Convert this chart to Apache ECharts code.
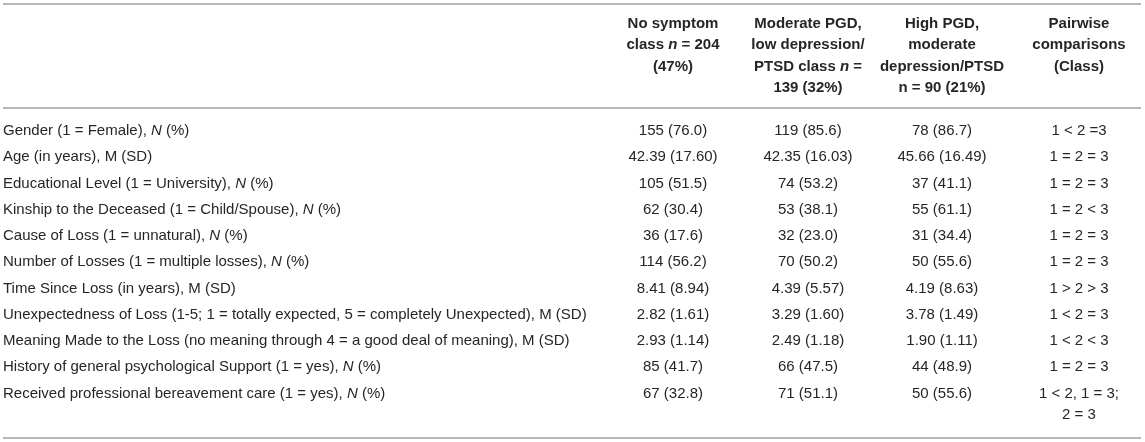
<!DOCTYPE html>
<html><head><meta charset="utf-8">
<script src="https://cdn.jsdelivr.net/npm/echarts@6/dist/echarts.min.js"></script>
<style>html,body{margin:0;padding:0;background:#fff}#c{width:1145px;height:442px}</style>
</head><body><div id="c"></div>
<script>
const headers = [
  'No symptom\nclass {bi|n} = 204\n(47%)',
  'Moderate PGD,\nlow depression/\nPTSD class {bi|n} =\n139 (32%)',
  'High PGD,\nmoderate\ndepression/PTSD\nn = 90 (21%)',
  'Pairwise\ncomparisons\n(Class)'
];
const rowLabels = [
  'Gender (1 = Female), {i|N} (%)',
  'Age (in years), M (SD)',
  'Educational Level (1 = University), {i|N} (%)',
  'Kinship to the Deceased (1 = Child/Spouse), {i|N} (%)',
  'Cause of Loss (1 = unnatural), {i|N} (%)',
  'Number of Losses (1 = multiple losses), {i|N} (%)',
  'Time Since Loss (in years), M (SD)',
  'Unexpectedness of Loss (1-5; 1 = totally expected, 5 = completely Unexpected), M (SD)',
  'Meaning Made to the Loss (no meaning through 4 = a good deal of meaning), M (SD)',
  'History of general psychological Support (1 = yes), {i|N} (%)',
  'Received professional bereavement care (1 = yes), {i|N} (%)'
];
const noSymptom = ['155 (76.0)','42.39 (17.60)','105 (51.5)','62 (30.4)','36 (17.6)','114 (56.2)','8.41 (8.94)','2.82 (1.61)','2.93 (1.14)','85 (41.7)','67 (32.8)'];
const moderatePGD = ['119 (85.6)','42.35 (16.03)','74 (53.2)','53 (38.1)','32 (23.0)','70 (50.2)','4.39 (5.57)','3.29 (1.60)','2.49 (1.18)','66 (47.5)','71 (51.1)'];
const highPGD = ['78 (86.7)','45.66 (16.49)','37 (41.1)','55 (61.1)','31 (34.4)','50 (55.6)','4.19 (8.63)','3.78 (1.49)','1.90 (1.11)','44 (48.9)','50 (55.6)'];
const comparisons = ['1 < 2 =3','1 = 2 = 3','1 = 2 = 3','1 = 2 < 3','1 = 2 = 3','1 = 2 = 3','1 > 2 > 3','1 < 2 = 3','1 < 2 < 3','1 = 2 = 3','1 < 2, 1 = 3;\n2 = 3'];

const columns = [rowLabels, noSymptom, moderatePGD, highPGD, comparisons];
const colX = [3, 673, 808, 942, 1079];
const colAlign = ['left','center','center','center','center'];
const FONT = '"Liberation Sans", Arial, Helvetica, sans-serif';
const TXT = '#262626';
const FS = 15;
const LINE = '#b8b8b8';

const cells = [];
rowLabels.forEach((_, r) => { for (let c = 0; c < columns.length; c++) cells.push([c, r]); });

const chart = echarts.init(document.getElementById('c'), null, {renderer: 'canvas'});
const graphics = [];
[4, 108, 438].forEach(y => graphics.push({
  type: 'line', shape: {x1: 3, y1: y, x2: 1141, y2: y},
  style: {stroke: LINE, lineWidth: 2}, silent: true
}));
headers.forEach((h, i) => graphics.push({
  type: 'text', x: colX[i + 1], y: 13.4,
  style: {text: h, font: 'bold ' + FS + 'px ' + FONT, fill: TXT, align: 'center', verticalAlign: 'top', lineHeight: 21.3,
    rich: {bi: {fontStyle: 'italic', fontWeight: 'bold', fontSize: FS, fontFamily: FONT, fill: TXT, lineHeight: 21.3}}}
}));

chart.setOption({
  animation: false,
  grid: {left: 0, right: 0, top: 117.9, bottom: 35.4},
  xAxis: {type: 'value', min: 0, max: 1145, show: false},
  yAxis: {type: 'category', data: rowLabels, inverse: true, show: false},
  graphic: graphics,
  series: [{
    type: 'custom',
    data: cells,
    renderItem: function (params, api) {
      const c = api.value(0), r = api.value(1);
      const y = api.coord([0, r])[1];
      const lines = String(columns[c][r]).split('\n');
      return {
        type: 'group',
        children: lines.map((t, k) => ({
          type: 'text',
          x: colX[c], y: y + k * 21.6,
          style: {text: t, fontSize: FS, fontFamily: FONT, fill: TXT, align: colAlign[c], verticalAlign: 'middle', lineHeight: 18,
            rich: {i: {fontStyle: 'italic', fontSize: FS, fontFamily: FONT, fill: TXT, lineHeight: 18}}}
        }))
      };
    }
  }]
});
</script></body></html>
